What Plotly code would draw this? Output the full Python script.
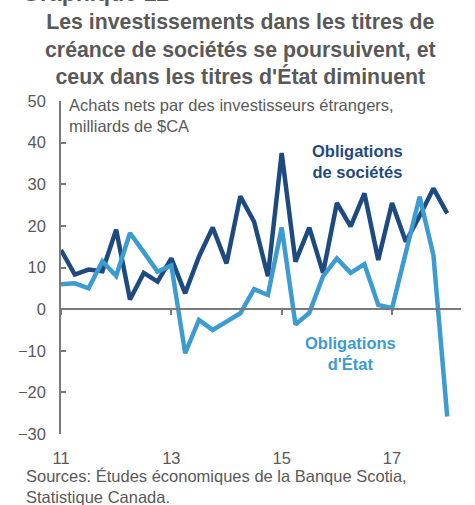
import plotly.graph_objects as go

# Quarterly periods 2011Q1 .. 2018Q1
years = [2011, 2012, 2013, 2014, 2015, 2016, 2017, 2018]
periods = [(y, q) for y in years for q in range(1, 5)][:29]
x_vals = [(y - 2000) + (q - 1) / 4 for (y, q) in periods]

corporate = [14.2, 8.3, 9.5, 9.1, 19.1, 2.3, 8.7, 6.6, 12.2, 3.8, 12.6, 19.6, 11.0, 27.1,
             21.0, 7.9, 37.5, 11.4, 19.6, 8.7, 25.5, 19.9, 27.8, 11.8, 25.5, 16.2, 22.4,
             29.0, 23.0]
government = [6.0, 6.2, 5.0, 11.5, 8.0, 18.3, 13.7, 9.0, 10.5, -10.6, -2.6, -5.0, -3.0,
              -1.0, 4.8, 3.4, 19.6, -3.7, -0.9, 7.9, 12.2, 8.7, 10.8, 1.0, 0.2, 14.0,
              27.0, 13.0, -25.8]

x_ticks = [11, 13, 15, 17]
x_ticktext = ["11", "13", "15", "17"]
y_ticks = [-30, -20, -10, 0, 10, 20, 30, 40, 50]

DARK = "#1e4b7f"
LIGHT = "#3c9bd0"
GRAY = "#595959"
AXIS = "#7a7a7a"
FONT = "Liberation Sans, Arial, sans-serif"
FS = 16.5

W, H = 475, 505
L, R, T, B = 61, 14, 101, 71
ph = H - T - B
pw = W - L - R

def py(p):
    return (H - B - p) / ph

def px(p):
    return (p - L) / pw

fig = go.Figure()
fig.add_trace(go.Scatter(x=x_vals, y=corporate, mode="lines",
                         line=dict(color=DARK, width=4.5), showlegend=False,
                         hoverinfo="skip"))
fig.add_trace(go.Scatter(x=x_vals, y=government, mode="lines",
                         line=dict(color=LIGHT, width=4.5), showlegend=False,
                         hoverinfo="skip"))
# helper trace for the zero-line axis with ticks
fig.add_trace(go.Scatter(x=[x_vals[0]], y=[0], xaxis="x2", mode="markers",
                         marker=dict(opacity=0), showlegend=False, hoverinfo="skip"))

xr = [11, 18.25]
fig.update_layout(
    width=W, height=H,
    margin=dict(l=L, r=R, t=T, b=B),
    paper_bgcolor="white", plot_bgcolor="white",
    font=dict(family=FONT, color=GRAY, size=FS),
    xaxis=dict(range=xr, tickvals=x_ticks, ticktext=x_ticktext, showgrid=False,
               zeroline=False, showline=False, ticks="", ticklabelstandoff=12,
               tickfont=dict(size=FS, color=GRAY)),
    xaxis2=dict(range=xr, overlaying="x", anchor="free", position=0.375, side="bottom",
                tickvals=x_ticks, showticklabels=False, showgrid=False, zeroline=False,
                showline=True, linecolor=AXIS, linewidth=1.5, ticks="outside",
                ticklen=5, tickwidth=1.5, tickcolor=AXIS),
    yaxis=dict(range=[-30, 50], tickvals=y_ticks, showgrid=False, zeroline=False,
               showline=True, linecolor=AXIS, linewidth=1.5, ticks="inside",
               ticklen=5, tickwidth=1.5, tickcolor=AXIS, ticklabelstandoff=10,
               tickfont=dict(size=FS, color=GRAY)),
)

ann = []
ann.append(dict(text="<b>Graphique 12</b>", x=px(20), y=py(8), xref="paper", yref="paper",
                xanchor="left", yanchor="bottom", showarrow=False,
                font=dict(size=23, color=GRAY)))
ann.append(dict(text="<b>Les investissements dans les titres de<br>créance de sociétés se poursuivent, et<br>ceux dans les titres d'État diminuent</b>",
                x=px(240), y=py(8), xref="paper", yref="paper", xanchor="center",
                yanchor="top", align="center", showarrow=False,
                font=dict(size=21.3, color=GRAY)))
ann.append(dict(text="Achats nets par des investisseurs étrangers,<br>milliards de $CA",
                x=px(67), y=py(94), xref="paper", yref="paper", xanchor="left",
                yanchor="top", align="left", showarrow=False,
                font=dict(size=FS, color=GRAY)))
ann.append(dict(text="<b>Obligations<br>de sociétés</b>",
                x=px(357), y=py(140), xref="paper", yref="paper", xanchor="center",
                yanchor="top", align="center", showarrow=False,
                font=dict(size=FS, color=DARK)))
ann.append(dict(text="<b>Obligations<br>d'État</b>",
                x=px(350), y=py(332), xref="paper", yref="paper", xanchor="center",
                yanchor="top", align="center", showarrow=False,
                font=dict(size=FS, color=LIGHT)))
ann.append(dict(text="Sources: Études économiques de la Banque Scotia,<br>Statistique Canada.",
                x=px(24), y=py(465), xref="paper", yref="paper", xanchor="left",
                yanchor="top", align="left", showarrow=False,
                font=dict(size=FS, color=GRAY)))
fig.update_layout(annotations=ann)

fig.write_html("out.html", config={"displayModeBar": False},
               post_script="document.body.style.margin='0';document.body.style.overflow='hidden';")
